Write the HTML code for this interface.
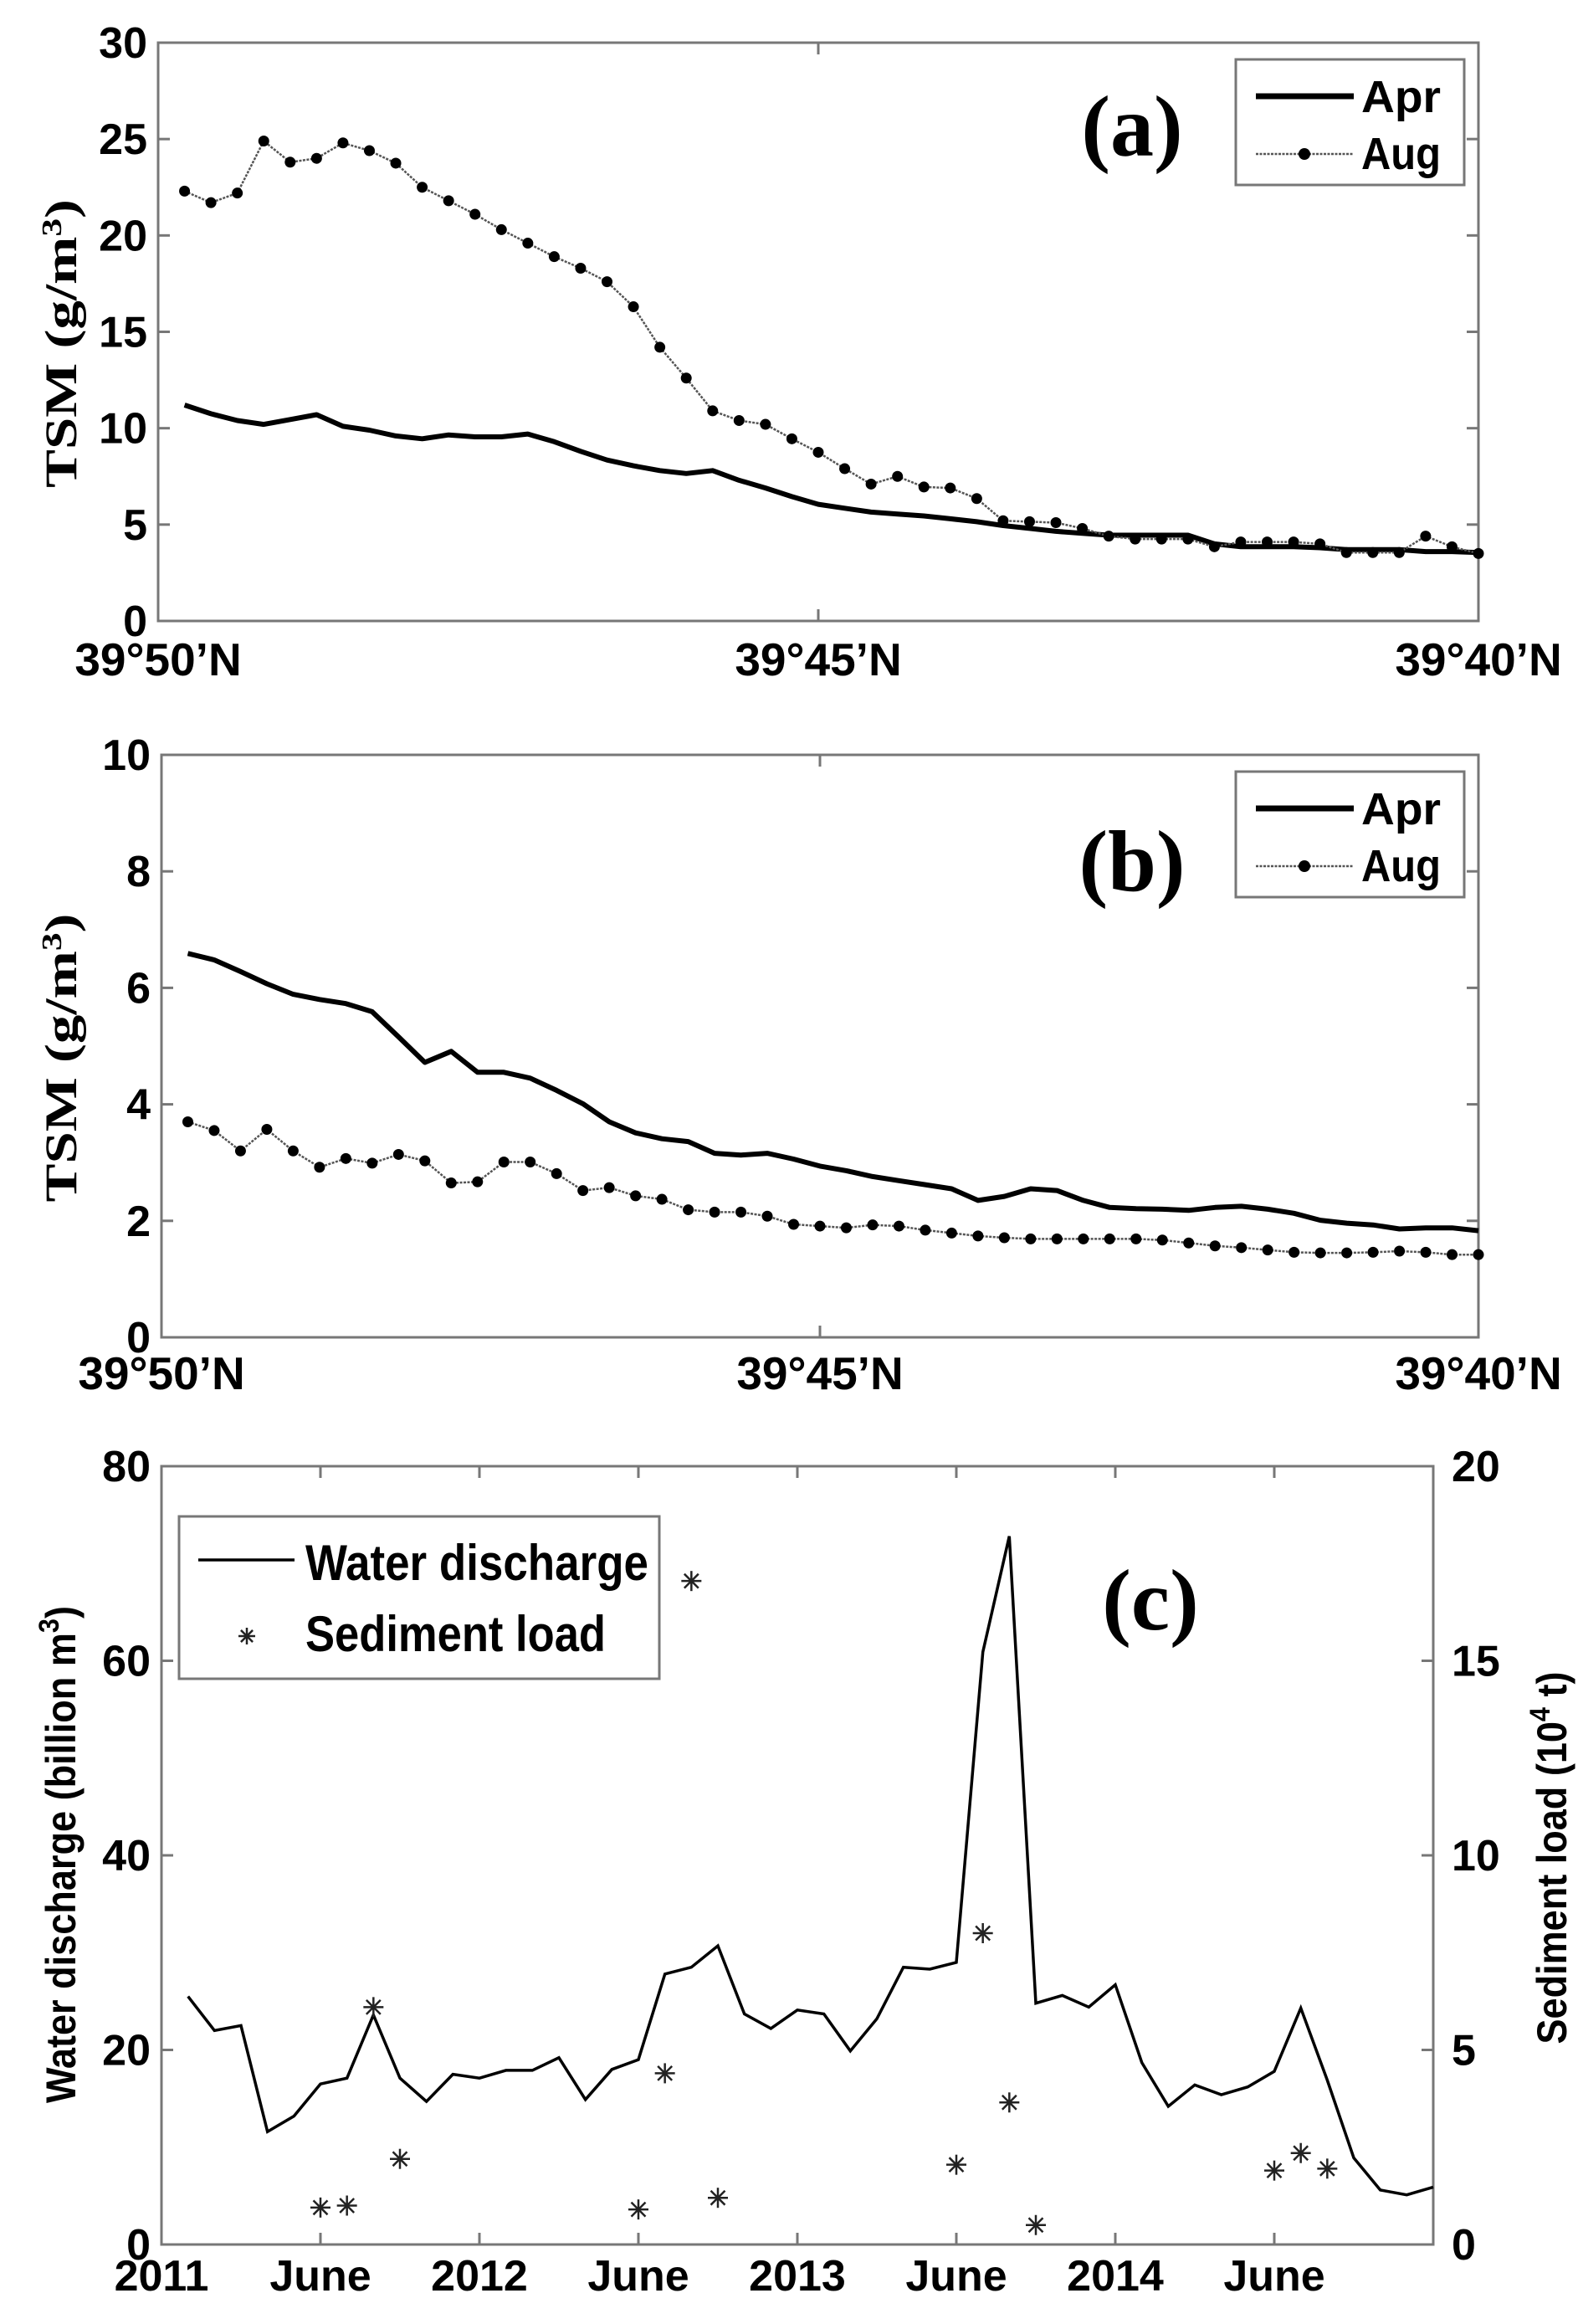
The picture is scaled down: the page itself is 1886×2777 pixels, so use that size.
<!DOCTYPE html>
<html><head><meta charset="utf-8"><style>
html,body{margin:0;padding:0;background:#fff;}
svg{display:block;}
text{font-family:"Liberation Sans",Arial,sans-serif;font-weight:bold;fill:#000;}
.serif{font-family:"Liberation Serif","Times New Roman",serif;}
</style></head><body>
<svg id="fig" width="1886" height="2777" viewBox="0 0 1886 2777" xmlns="http://www.w3.org/2000/svg">
<rect x="0" y="0" width="1886" height="2777" fill="#fff"/>
<g id="pa"></g>
<g id="pb"></g>
<g id="pc"></g>
</svg>
<script>
// ---- Panel (a) data: TSM along transect (index k -> distance 0.2*(k+1) minutes south of 39°50'N)
const aApr = [11.2,10.75,10.4,10.2,10.45,10.7,10.1,9.9,9.6,9.45,9.65,9.55,9.55,9.7,9.3,8.8,8.35,8.05,7.8,7.65,7.8,7.3,6.9,6.45,6.05,5.85,5.65,5.55,5.45,5.3,5.15,4.95,4.8,4.65,4.55,4.45,4.45,4.45,4.45,4.0,3.85,3.85,3.85,3.8,3.7,3.7,3.7,3.6,3.6,3.55];
const aAug = [22.3,21.7,22.2,24.9,23.8,24.0,24.8,24.4,23.75,22.5,21.8,21.1,20.3,19.6,18.9,18.3,17.6,16.3,14.2,12.6,10.9,10.4,10.2,9.45,8.75,7.9,7.1,7.5,6.95,6.9,6.35,5.2,5.15,5.1,4.8,4.4,4.25,4.25,4.25,3.85,4.1,4.1,4.1,4.0,3.55,3.55,3.55,4.4,3.85,3.5];
const aYTicks = [0,5,10,15,20,25,30];
// ---- Panel (b) data
const bApr = [6.59,6.48,6.28,6.07,5.89,5.80,5.73,5.59,5.16,4.72,4.91,4.55,4.55,4.45,4.24,4.01,3.70,3.51,3.41,3.36,3.16,3.13,3.16,3.06,2.94,2.86,2.76,2.69,2.62,2.55,2.35,2.42,2.55,2.52,2.35,2.23,2.21,2.20,2.18,2.23,2.25,2.20,2.13,2.01,1.96,1.93,1.86,1.88,1.88,1.83];
const bAug = [3.70,3.55,3.2,3.57,3.2,2.92,3.07,2.99,3.14,3.03,2.65,2.67,3.01,3.01,2.81,2.52,2.57,2.43,2.37,2.19,2.15,2.15,2.08,1.94,1.91,1.88,1.93,1.91,1.84,1.79,1.74,1.71,1.69,1.69,1.69,1.69,1.69,1.67,1.62,1.57,1.54,1.50,1.46,1.45,1.45,1.46,1.48,1.46,1.42,1.42];
const bYTicks = [0,2,4,6,8,10];
const latTickVals = [0,5,10];
const latTickLabels = ["39°50’N","39°45’N","39°40’N"];
// ---- Panel (c) data: months since Jan 2011
const waterMonths = [1,2,3,4,5,6,7,8,9,10,11,12,13,14,15,16,17,18,19,20,21,22,23,24,25,26,27,28,29,30,31,32,33,34,35,36,37,38,39,40,41,42,43,44,45,46,47,48];
const waterVals = [25.5,22.0,22.5,11.6,13.2,16.5,17.1,23.6,17.1,14.7,17.5,17.1,17.9,17.9,19.2,14.9,18.0,19.0,27.8,28.5,30.7,23.7,22.2,24.1,23.7,19.9,23.2,28.5,28.3,29.0,60.9,72.8,24.8,25.6,24.4,26.7,18.7,14.2,16.4,15.4,16.2,17.8,24.3,16.9,8.9,5.6,5.1,5.9];
const sedMonths = [6,7,8,9,18,19,20,21,30,31,32,33,42,43,44];
const sedVals = [0.95,1.0,6.1,2.2,0.9,4.4,17.05,1.2,2.05,8.0,3.65,0.5,1.9,2.35,1.95];
const cLeftTicks = [0,20,40,60,80];
const cRightTicks = [0,5,10,15,20];
const cXTickMonths = [0,6,12,18,24,30,36,42];
const cXTickLabels = ["2011","June","2012","June","2013","June","2014","June"];

const NS="http://www.w3.org/2000/svg";
function mk(parent,tag,attrs,txt){const e=document.createElementNS(NS,tag);for(const k in attrs)e.setAttribute(k,attrs[k]);if(txt!==undefined)e.textContent=txt;parent.appendChild(e);return e;}

function frame(g,L,R,T,B){
  const r=mk(g,'rect',{x:L,y:T,width:R-L,height:B-T,fill:'none',stroke:'#777','stroke-width':3});
  
  
}

function tsmPanel(g,L,R,T,B,ymax,yticks,apr,aug,lab,labBase,legTop,labelBase,tickBase){
  const xs=d=>L+(d/10)*(R-L);
  const ys=v=>B-(v/ymax)*(B-T);
  frame(g,L,R,T,B);
  yticks.forEach(v=>{
    const y=ys(v);
    if(v>0&&v<ymax){mk(g,'line',{x1:L,y1:y,x2:L+14,y2:y,stroke:'#777','stroke-width':3});mk(g,'line',{x1:R-14,y1:y,x2:R,y2:y,stroke:'#777','stroke-width':3});}
    const t=mk(g,'text',{x:L-13,y:y+18,'text-anchor':'end','font-size':52},String(v));
    
    
  });
  latTickVals.forEach((d,i)=>{
    const x=xs(d);
    if(d>0&&d<10){mk(g,'line',{x1:x,y1:T,x2:x,y2:T+14,stroke:'#777','stroke-width':3});mk(g,'line',{x1:x,y1:B-14,x2:x,y2:B,stroke:'#777','stroke-width':3});}
    const t=mk(g,'text',{x:x,y:tickBase,'text-anchor':'middle','font-size':55},latTickLabels[i]);
    
    
  });
  const cy=(T+B)/2+14;
  const yt=mk(g,'text',{class:'serif',x:0,y:0,'text-anchor':'middle','font-size':54,fill:'#1a1208',transform:`translate(91,${cy}) rotate(-90)`,textLength:345,lengthAdjust:'spacingAndGlyphs'});
  
  
  yt.innerHTML='TSM (g/m<tspan dy="-18" font-size="34">3</tspan><tspan dy="18">)</tspan>';
  const pA=apr.map((v,i)=>`${xs(0.2*(i+1)).toFixed(1)},${ys(v).toFixed(1)}`).join(' ');
  const la=mk(g,'polyline',{points:pA,fill:'none',stroke:'#000','stroke-width':6,'stroke-linejoin':'round'});
  
  
  const pG=aug.map((v,i)=>`${xs(0.2*(i+1)).toFixed(1)},${ys(v).toFixed(1)}`).join(' ');
  const lg=mk(g,'polyline',{points:pG,fill:'none',stroke:'#555','stroke-width':2.5,'stroke-dasharray':'3 1.5'});
  
  
  aug.forEach((v,i)=>{
    const c=mk(g,'circle',{cx:xs(0.2*(i+1)),cy:ys(v),r:6.5,fill:'#000'});
    
    
  });
  const pl=mk(g,'text',{class:'serif',x:1353,y:labBase,'text-anchor':'middle','font-size':104},lab);
  
  
  const lgd=mk(g,'g',{});
  
  
  mk(lgd,'rect',{x:1477,y:legTop,width:273,height:150,fill:'#fff',stroke:'#777','stroke-width':3});
  mk(lgd,'line',{x1:1501,y1:legTop+44,x2:1618,y2:legTop+44,stroke:'#000','stroke-width':7});
  mk(lgd,'line',{x1:1501,y1:legTop+113,x2:1618,y2:legTop+113,stroke:'#555','stroke-width':2.5,'stroke-dasharray':'3 1.5'});
  mk(lgd,'circle',{cx:1559,cy:legTop+113,r:7,fill:'#000'});
  const e1=mk(lgd,'text',{x:1627,y:legTop+63,'font-size':54,textLength:95,lengthAdjust:'spacingAndGlyphs'},'Apr');
  
  
  const e2=mk(lgd,'text',{x:1627,y:legTop+131,'font-size':54,textLength:95,lengthAdjust:'spacingAndGlyphs'},'Aug');
  
  
}

tsmPanel(document.getElementById('pa'),189,1767,51,742,30,aYTicks,aApr,aAug,'(a)',186,71,0,807);
tsmPanel(document.getElementById('pb'),193,1767,902,1598,10,bYTicks,bApr,bAug,'(b)',1064,922,0,1660);

(function(){
  const g=document.getElementById('pc');
  const L=193,R=1713,T=1752,B=2682;
  const xs=m=>L+(m/48)*(R-L);
  const yl=v=>B-(v/80)*(B-T);
  const yr=v=>B-(v/20)*(B-T);
  frame(g,L,R,T,B);
  cLeftTicks.forEach(v=>{
    const y=yl(v);
    if(v>0&&v<80){mk(g,'line',{x1:L,y1:y,x2:L+14,y2:y,stroke:'#777','stroke-width':3});}
    const t=mk(g,'text',{x:L-13,y:y+18,'text-anchor':'end','font-size':52},String(v));
    
    
  });
  cRightTicks.forEach(v=>{
    const y=yr(v);
    if(v>0&&v<20){mk(g,'line',{x1:R-14,y1:y,x2:R,y2:y,stroke:'#777','stroke-width':3});}
    const t=mk(g,'text',{x:R+22,y:y+18,'text-anchor':'start','font-size':52},String(v));
    
    
  });
  cXTickMonths.forEach((m,i)=>{
    const x=xs(m);
    if(m>0){mk(g,'line',{x1:x,y1:T,x2:x,y2:T+14,stroke:'#777','stroke-width':3});mk(g,'line',{x1:x,y1:B-14,x2:x,y2:B,stroke:'#777','stroke-width':3});}
    const t=mk(g,'text',{x:x,y:2737,'text-anchor':'middle','font-size':52},cXTickLabels[i]);
    
    
  });
  const lt=mk(g,'text',{x:0,y:0,'text-anchor':'middle','font-size':50,transform:'translate(90,2216) rotate(-90)',textLength:594,lengthAdjust:'spacingAndGlyphs'});
  
  
  lt.innerHTML='Water discharge (billion m<tspan dy="-20" font-size="34">3</tspan><tspan dy="20">)</tspan>';
  const rt=mk(g,'text',{x:0,y:0,'text-anchor':'middle','font-size':50,transform:'translate(1872,2220) rotate(-90)',textLength:445,lengthAdjust:'spacingAndGlyphs'});
  
  
  rt.innerHTML='Sediment load (10<tspan dy="-20" font-size="34">4</tspan><tspan dy="20"> t)</tspan>';
  const pts=waterVals.map((v,i)=>`${xs(waterMonths[i]).toFixed(1)},${yl(v).toFixed(1)}`).join(' ');
  const wl=mk(g,'polyline',{points:pts,fill:'none',stroke:'#000','stroke-width':3.5,'stroke-linejoin':'miter'});
  
  
  function star(parent,cx,cy,r){
    const s=mk(parent,'g',{stroke:'#222','stroke-width':2.5});
    for(let a=0;a<4;a++){const t=a*Math.PI/4;mk(s,'line',{x1:cx-r*Math.cos(t),y1:cy-r*Math.sin(t),x2:cx+r*Math.cos(t),y2:cy+r*Math.sin(t)});}
    return s;
  }
  sedVals.forEach((v,i)=>{
    const s=star(g,xs(sedMonths[i]),yr(v),12);
    
    
  });
  const pl=mk(g,'text',{class:'serif',x:1375,y:1947,'text-anchor':'middle','font-size':104},'(c)');
  
  
  const lgd=mk(g,'g',{});
  
  
  mk(lgd,'rect',{x:214,y:1812,width:574,height:194,fill:'#fff',stroke:'#777','stroke-width':3});
  mk(lgd,'line',{x1:237,y1:1864,x2:352,y2:1864,stroke:'#000','stroke-width':3.5});
  star(lgd,295,1955,10);
  const e1=mk(lgd,'text',{x:365,y:1888,'font-size':60,textLength:410,lengthAdjust:'spacingAndGlyphs'},'Water discharge');
  
  
  const e2=mk(lgd,'text',{x:365,y:1973,'font-size':60,textLength:359,lengthAdjust:'spacingAndGlyphs'},'Sediment load');
  
  
})();
</script>
</body></html>
